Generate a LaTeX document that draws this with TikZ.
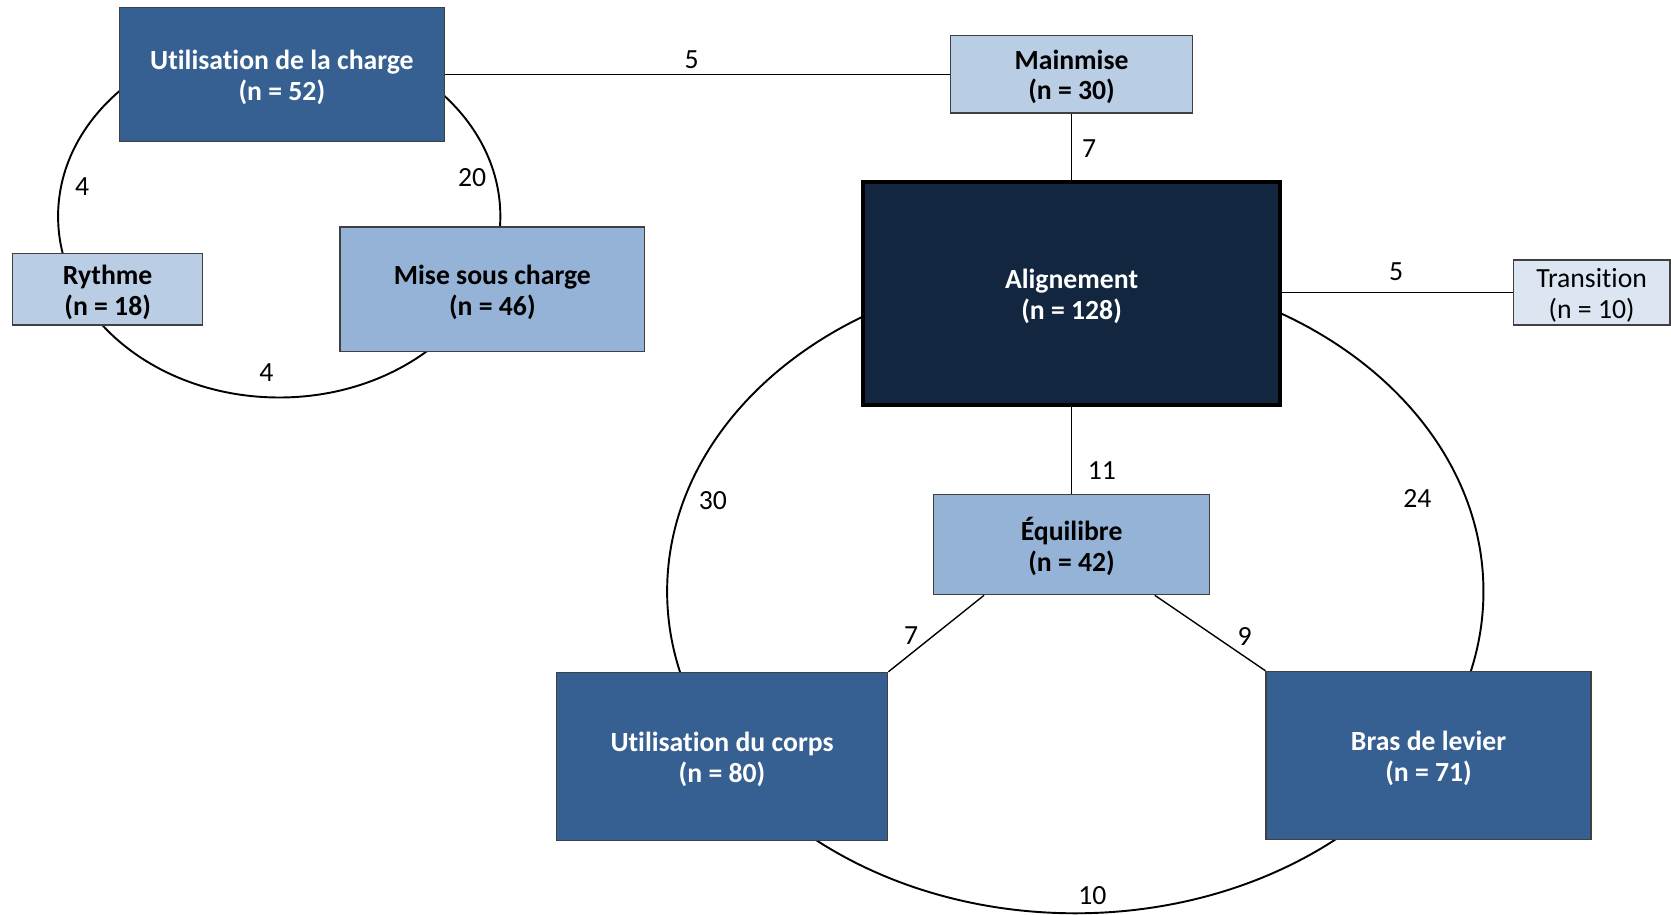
\documentclass[tikz,border=0pt]{standalone}
\usepackage{fontspec}
\setmainfont{Carlito}[Ligatures=NoCommon]
\definecolor{cdark}{HTML}{376092}
\definecolor{cnavy}{HTML}{12263F}
\definecolor{cmid}{HTML}{95B3D7}
\definecolor{clight}{HTML}{B9CDE5}
\definecolor{cpale}{HTML}{DCE6F2}
\definecolor{cborder}{HTML}{404040}
\newcommand\twolines[2]{\raisebox{-4pt}[\height][\depth]{\begin{tabular}{@{}c@{}}#1\\#2\end{tabular}}}
\tikzset{
  box/.style={draw=cborder, line width=1.2pt, inner sep=0pt, align=center,
    font=\fontsize{26}{29}\selectfont\bfseries},
  darkbox/.style={box, fill=cdark, text=white},
  midbox/.style={box, fill=cmid, text=black},
  lightbox/.style={box, fill=clight, text=black},
  palebox/.style={box, fill=cpale, text=black, font=\fontsize{26}{29}\selectfont},
  link/.style={draw=black, line width=1.3pt},
  ring/.style={draw=black, line width=1.8pt},
  lbl/.style={font=\fontsize{26}{29}\selectfont, inner sep=0pt}
}
\begin{document}
\begin{tikzpicture}[x=1pt,y=-1pt]
\useasboundingbox (0,0) rectangle (1568,858);
% rings
\draw[ring] (262,203) ellipse [x radius=207.5pt, y radius=170pt];
\draw[ring] (1009,555) ellipse [x radius=383pt, y radius=302pt];
% nodes
\node[darkbox, minimum width=305pt, minimum height=126pt] (uc) at (264.5,70) {\twolines{Utilisation de la charge}{(n = 52)}};
\node[lightbox, minimum width=227pt, minimum height=73pt] (mm) at (1005.5,69.5) {\twolines{Mainmise}{(n = 30)}};
\node[lightbox, minimum width=178pt, minimum height=67pt] (ry) at (101,271.5) {\twolines{Rythme}{(n = 18)}};
\node[midbox, minimum width=286pt, minimum height=117pt] (ms) at (462,271.5) {\twolines{Mise sous charge}{(n = 46)}};
\node[box, draw=black, line width=3.5pt, fill=cnavy, text=white, minimum width=391pt, minimum height=209pt] (al) at (1005.5,275.5) {\twolines{Alignement}{(n = 128)}};
\node[palebox, minimum width=147pt, minimum height=61pt] (tr) at (1493.5,274.5) {\twolines{Transition}{(n = 10)}};
\node[midbox, minimum width=259pt, minimum height=94pt] (eq) at (1005.5,511) {\twolines{Équilibre}{(n = 42)}};
\node[darkbox, minimum width=311pt, minimum height=158pt] (co) at (677.5,710) {\twolines{Utilisation du corps}{(n = 80)}};
\node[darkbox, minimum width=305pt, minimum height=158pt] (bl) at (1340.5,709) {\twolines{Bras de levier}{(n = 71)}};
% links
\draw[link] (uc.east) -- (uc.east -| mm.west);
\draw[link] (mm.south) -- (al.north);
\draw[link] (al.east |- tr.west) -- (tr.west);
\draw[link] (al.south) -- (eq.north);
\draw[link] ([xshift=48pt]eq.south west) -- (co.north east);
\draw[link] ([xshift=-52pt]eq.south east) -- (bl.north west);
% labels
\node[lbl] (l1) at (649,56) {5};
\node[lbl] (l2) at (1022,139) {7};
\node[lbl] (l3) at (1310,255) {5};
\node[lbl] (l4) at (1034,442) {11};
\node[lbl] (l5) at (855,596) {7};
\node[lbl] (l6) at (1168,597) {9};
\node[lbl] (l7) at (77,175) {4};
\node[lbl] (l8) at (443,167) {20};
\node[lbl] (l9) at (250,350) {4};
\node[lbl] (l10) at (669,470) {30};
\node[lbl] (l11) at (1330,468) {24};
\node[lbl] (l12) at (1025,840) {10};
\end{tikzpicture}
\end{document}
